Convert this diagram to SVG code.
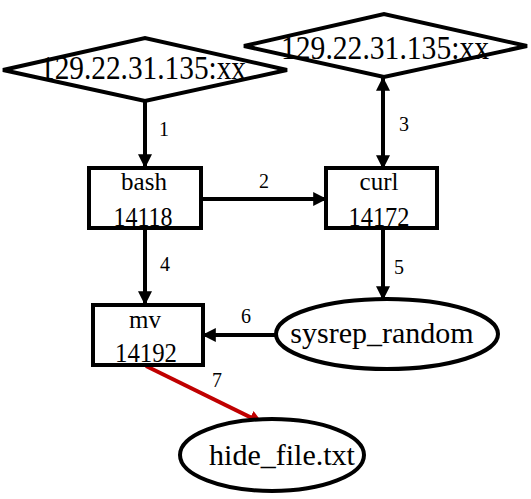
<svg xmlns="http://www.w3.org/2000/svg" width="531" height="499" viewBox="0 0 531 499">
<style>
.shape{fill:#fff;stroke:#000;stroke-width:4}
.c{stroke:#000;stroke-width:4;fill:none}
.red{stroke:#c00000;stroke-width:4;fill:none}
</style>
<defs>
<marker id="ah" markerUnits="userSpaceOnUse" markerWidth="14" markerHeight="14" viewBox="0 0 12 12" refX="11" refY="6" orient="auto-start-reverse">
<path d="M0,0 L12,6 L0,12 z" fill="#000"/>
</marker>
<marker id="ahr" markerUnits="userSpaceOnUse" markerWidth="14" markerHeight="14" viewBox="0 0 12 12" refX="11" refY="6" orient="auto">
<path d="M0,0 L12,6 L0,12 z" fill="#c00000"/>
</marker>
</defs>
<g font-family="Liberation Serif" text-anchor="middle" fill="#000">
<g id="connectors">
<line class="c" x1="145" y1="101" x2="145" y2="167" marker-end="url(#ah)"/>
<line class="c" x1="201" y1="199" x2="326" y2="199" marker-end="url(#ah)"/>
<line class="c" x1="383" y1="78" x2="383" y2="168" marker-start="url(#ah)" marker-end="url(#ah)"/>
<line class="c" x1="145" y1="229" x2="145" y2="304" marker-end="url(#ah)"/>
<line class="c" x1="383" y1="229" x2="383" y2="299" marker-end="url(#ah)"/>
<line class="c" x1="277" y1="335" x2="203" y2="335" marker-end="url(#ah)"/>
<line class="red" x1="146" y1="366" x2="262" y2="423" marker-end="url(#ahr)"/>
<g font-size="20">
<text x="164" y="136">1</text>
<text x="264" y="188">2</text>
<text x="404" y="131">3</text>
<text x="165" y="271">4</text>
<text x="399" y="274">5</text>
<text x="246" y="323">6</text>
<text x="217" y="387">7</text>
</g>
</g>
<g id="ip1">
<polygon class="shape" points="3,70 145,38 287,70 145,101"/>
<text x="143" y="79" font-size="33" textLength="206" lengthAdjust="spacingAndGlyphs">129.22.31.135:xx</text>
</g>
<g id="ip2">
<polygon class="shape" points="244,46 384,14 527,46 384,77"/>
<text x="385" y="59" font-size="33" textLength="208" lengthAdjust="spacingAndGlyphs">129.22.31.135:xx</text>
</g>
<g id="bash">
<rect class="shape" x="89" y="168" width="112" height="60"/>
<text x="144" y="190" font-size="25">bash</text>
<text x="143" y="226" font-size="27" textLength="59" lengthAdjust="spacingAndGlyphs">14118</text>
</g>
<g id="curl">
<rect class="shape" x="326" y="168" width="111" height="60"/>
<text x="379" y="190" font-size="25">curl</text>
<text x="379" y="226" font-size="27" textLength="61" lengthAdjust="spacingAndGlyphs">14172</text>
</g>
<g id="mv">
<rect class="shape" x="93" y="305" width="110" height="60"/>
<text x="145" y="328" font-size="25">mv</text>
<text x="146" y="362" font-size="27" textLength="62" lengthAdjust="spacingAndGlyphs">14192</text>
</g>
<g id="sysrep">
<ellipse class="shape" cx="387" cy="334" rx="111" ry="35"/>
<text x="382" y="343" font-size="30">sysrep_random</text>
</g>
<g id="hide">
<ellipse class="shape" cx="272" cy="455" rx="92" ry="36"/>
<text x="282" y="465" font-size="30">hide_file.txt</text>
</g>
</g>
</svg>
